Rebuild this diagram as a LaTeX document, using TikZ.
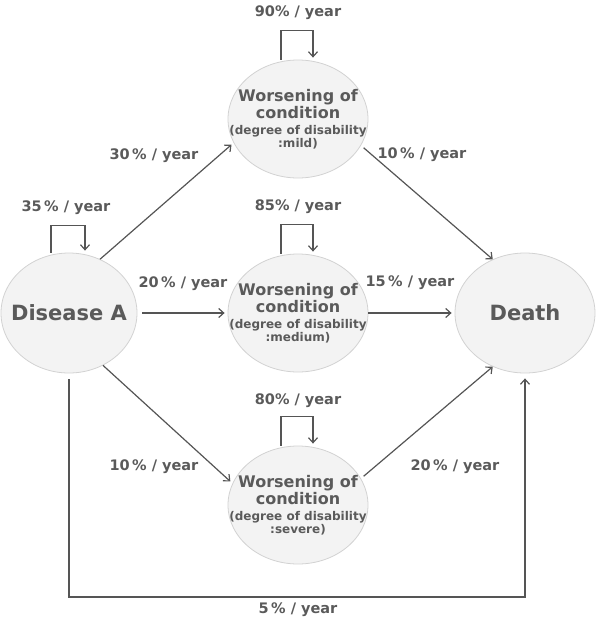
\documentclass[tikz,border=0pt]{standalone}
\usepackage{fontspec}
\setmainfont{DejaVu Sans}
\usetikzlibrary{arrows.meta,shapes.geometric}
\definecolor{txt}{HTML}{5A5A5A}
\definecolor{ln}{HTML}{555555}
\definecolor{bd}{HTML}{D2D2D2}
\definecolor{fl}{HTML}{F3F3F3}
\newcommand{\worse}[1]{Worsening of\\[-1pt]condition\\[-2pt]{\fontsize{12}{13}\selectfont (degree of disability}\\[-5pt]{\fontsize{12}{13}\selectfont :#1)}}
\begin{document}
\begin{tikzpicture}[x=1pt,y=-1pt,
  bubble/.style={ellipse, draw=bd, fill=fl, line width=0.8pt, inner ysep=0pt, inner xsep=-20pt,
    minimum width=140pt, minimum height=118pt, text=txt, align=center,
    font=\bfseries\fontsize{16}{18}\selectfont},
  big/.style={font=\bfseries\fontsize{21}{24}\selectfont, inner xsep=-12pt},
  lbl/.style={text=txt, font=\bfseries\fontsize{14.5}{16}\selectfont, inner sep=0pt},
  arr/.style={draw=ln, line width=1.2pt, -{Straight Barb[length=5pt,width=9pt]}},
]
\useasboundingbox (0,0) rectangle (600,625);

\node[bubble, big, minimum width=136pt, minimum height=120pt] (dA) at (69,313) {Disease A};
\node[bubble] (mild) at (298,119) {\worse{mild}};
\node[bubble] (med) at (298,313) {\worse{medium}};
\node[bubble] (sev) at (298,505) {\worse{severe}};
\node[bubble, big, minimum height=120pt] (death) at (525,313) {Death};

% self loops
\draw[arr] ([xshift=-18pt]dA.north) -- ++(0,-27) -| ([xshift=16pt,yshift=2pt]dA.north);
\draw[arr] ([xshift=-17pt]mild.north) -- ++(0,-29) -| ([xshift=15pt,yshift=2pt]mild.north);
\draw[arr] ([xshift=-17pt]med.north) -- ++(0,-29) -| ([xshift=15pt,yshift=2pt]med.north);
\draw[arr] ([xshift=-17pt]sev.north) -- ++(0,-29) -| ([xshift=15pt,yshift=2pt]sev.north);

% transitions
\draw[arr] (dA.60) -- ([xshift=-3pt]mild.202);
\draw[arr] ([xshift=5pt]dA.east) -- ([xshift=-3pt]med.west);
\draw[arr] (dA.-57) -- ([xshift=-3pt]sev.160);
\draw[arr] ([xshift=4pt]mild.-25) -- (death.121);
\draw[arr] (med.east) -- ([xshift=-3pt]death.west);
\draw[arr] ([xshift=4pt]sev.25) -- (death.-121);
\coordinate (bot) at (0,597);
\draw[arr] ([yshift=-6pt]dA.south) -- (dA.south |- bot) -| ([yshift=-5pt]death.south);

% labels
\node[lbl] (l1) at (66,208) {35\,\% / year};
\node[lbl] (l2) at (298,13) {90\% / year};
\node[lbl] (l3) at (298,207) {85\% / year};
\node[lbl] (l4) at (298,401) {80\% / year};
\node[lbl] (l5) at (154,156) {30\,\% / year};
\node[lbl] (l6) at (422,155) {10\,\% / year};
\node[lbl] (l7) at (183,284) {20\,\% / year};
\node[lbl] (l8) at (410,283) {15\,\% / year};
\node[lbl] (l9) at (154,467) {10\,\% / year};
\node[lbl] (l10) at (455,467) {20\,\% / year};
\node[lbl] (l11) at (298,610) {5\,\% / year};
\end{tikzpicture}
\end{document}
